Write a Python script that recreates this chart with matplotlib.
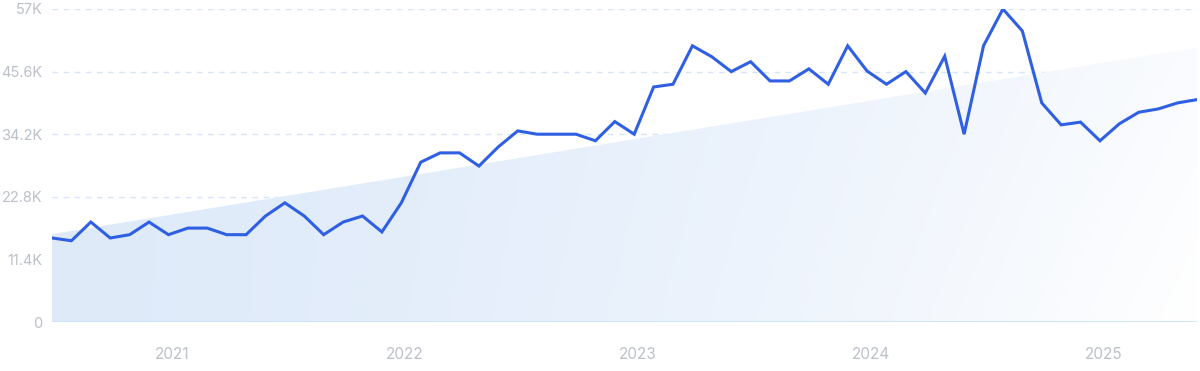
import matplotlib
matplotlib.use("Agg")
import matplotlib.pyplot as plt
import numpy as np
from matplotlib.ticker import FixedLocator

# monthly values (thousands), Jul 2020 .. Jun 2025
values = [15.3, 14.8, 18.2, 15.3, 15.9, 18.2, 15.9, 17.1, 17.1, 15.9,
          15.9, 19.3, 21.7, 19.3, 15.9, 18.2, 19.3, 16.4, 21.7, 29.1,
          30.8, 30.8, 28.4, 31.9, 34.8, 34.2, 34.2, 34.2, 33.0, 36.5,
          34.2, 42.8, 43.3, 50.3, 48.3, 45.6, 47.4, 43.9, 43.9, 46.1,
          43.3, 50.3, 45.7, 43.3, 45.6, 41.7, 48.4, 34.2, 50.3, 57.0,
          53.0, 39.9, 35.9, 36.4, 33.0, 36.1, 38.2, 38.8, 39.9, 40.5]
trend_start = 16.0
trend_end = 50.0
year_labels = ["2021", "2022", "2023", "2024", "2025"]
first_jan_index = 6.2  # Jan 2021 sits ~6 months after the first point
y_ticks = [0, 11.4, 22.8, 34.2, 45.6, 57.0]
y_tick_labels = ["0", "11.4K", "22.8K", "34.2K", "45.6K", "57K"]

plt.rcParams['font.family'] = ['Inter', 'DejaVu Sans']

x = np.arange(len(values))
fig = plt.figure(figsize=(12, 3.71), dpi=100)
ax = fig.add_axes([52 / 1200, 49 / 371, 1145 / 1200, 313 / 371])
ax.set_xlim(0, len(values) - 1)
ax.set_ylim(0, 57.0)

# trend area with gradient fill
trend = np.linspace(trend_start, trend_end, len(values))
poly = ax.fill_between(x, 0, trend, color='none', lw=0)
gx, gy = np.meshgrid(np.linspace(0, 1, 300), np.linspace(0, 1, 100))
t = np.clip(gx ** 1.6 * (0.8 + 0.2 * (1 - gy)), 0, 1)
c0 = np.array([0.875, 0.92, 0.98])
c1 = np.array([1.0, 1.0, 1.0])
img = c0[None, None, :] * (1 - t[..., None]) + c1[None, None, :] * t[..., None]
im = ax.imshow(img, extent=[0, len(values) - 1, 0, 57.0], origin='lower',
               aspect='auto', zorder=1)
im.set_clip_path(poly.get_paths()[0], transform=ax.transData)

# grid
for yt in y_ticks[1:]:
    ax.axhline(yt, color='#d5e5f5', lw=1, ls=(0, (4, 4)), zorder=0)
ax.axhline(0, color='#c9e2fa', lw=1.2, zorder=2)

ax.plot(x, values, color='#2f5fe3', lw=2.2, zorder=3, solid_joinstyle='miter')

ax.yaxis.set_major_locator(FixedLocator(y_ticks))
ax.set_yticklabels(y_tick_labels)
xt = [first_jan_index + 12 * i for i in range(len(year_labels))]
ax.xaxis.set_major_locator(FixedLocator(xt))
ax.set_xticklabels(year_labels)
ax.tick_params(axis='y', length=0, pad=7, labelsize=10.5, labelcolor='#bcc0c9')
ax.tick_params(axis='x', length=0, pad=18, labelsize=11, labelcolor='#bcc0c9')
for s in ax.spines.values():
    s.set_visible(False)

fig.savefig("out.png", dpi=100)
